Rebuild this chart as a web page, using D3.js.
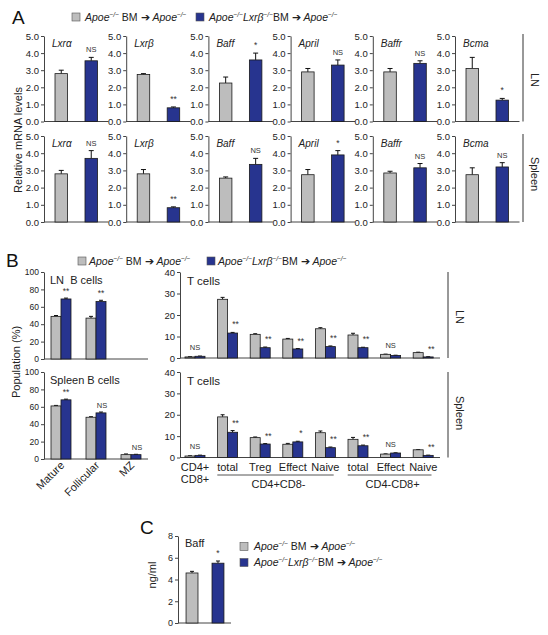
<!DOCTYPE html>
<html><head><meta charset="utf-8">
<script src="https://cdn.jsdelivr.net/npm/d3@7"></script>
<style>
body{margin:0;background:#fff}
svg{font-family:Arial,"Liberation Sans",Helvetica,sans-serif;display:block}
</style>
</head><body>
<svg id="fig" width="548" height="635"></svg>
<script>
// ---------------- DATA ----------------
const series = ["ctrl", "ko"];
const seriesColors = ["#bdbdbd", "#27348f"];

// Panel A: relative mRNA levels
const genes = ["Lxrα", "Lxrβ", "Baff", "April", "Baffr", "Bcma"];
const aTicks = [0, 1, 2, 3, 4, 5];
const lnCtrl    = [2.8, 2.75, 2.25, 2.9, 2.9, 3.1];
const lnCtrlErr = [0.2, 0.05, 0.35, 0.2, 0.2, 0.65];
const lnKo      = [3.55, 0.8, 3.6, 3.3, 3.4, 1.25];
const lnKoErr   = [0.2, 0.05, 0.4, 0.3, 0.15, 0.1];
const lnSig     = ["NS", "**", "*", "NS", "NS", "*"];
const spCtrl    = [2.8, 2.8, 2.55, 2.75, 2.85, 2.75];
const spCtrlErr = [0.2, 0.25, 0.07, 0.3, 0.1, 0.4];
const spKo      = [3.7, 0.83, 3.35, 3.9, 3.15, 3.2];
const spKoErr   = [0.45, 0.05, 0.35, 0.25, 0.25, 0.25];
const spSig     = ["NS", "**", "NS", "*", "NS", "NS"];

// Panel B: B cells population (%)
const bCats = ["Mature", "Follicular", "MZ"];
const bTicks = [0, 20, 40, 60, 80, 100];
const lnBCtrl    = [49, 47, null];
const lnBCtrlErr = [1, 2, null];
const lnBKo      = [69, 66, null];
const lnBKoErr   = [1, 1.5, null];
const lnBSig     = ["**", "**", null];
const spBCtrl    = [61, 48, 5];
const spBCtrlErr = [0.6, 0.6, 0.8];
const spBKo      = [68, 53, 5];
const spBKoErr   = [0.8, 1, 0.4];
const spBSig     = ["**", "NS", "NS"];

// Panel B: T cells population (%)
const tCats = ["CD4+|CD8+", "total", "Treg", "Effect", "Naive", "total ", "Effect ", "Naive "];
const tGroups = [["CD4+CD8-", 1, 4], ["CD4-CD8+", 5, 7]];
const tTicks = [0, 10, 20, 30, 40];
const lnTCtrl    = [0.5, 27.3, 11, 8.8, 13.6, 10.7, 1.7, 2.5];
const lnTCtrlErr = [0.1, 0.9, 0.3, 0.3, 0.5, 0.8, 0.1, 0.2];
const lnTKo      = [0.8, 11.6, 4.8, 4.2, 5.3, 4.8, 1.2, 0.5];
const lnTKoErr   = [0.1, 0.3, 0.3, 0.2, 0.3, 0.2, 0.1, 0.1];
const lnTSig     = ["NS", "**", "**", "**", "**", "**", "NS", "**"];
const spTCtrl    = [0.7, 19, 9.3, 6.2, 11.6, 8.5, 1.6, 3.6];
const spTCtrlErr = [0.1, 1, 0.3, 0.4, 0.8, 0.9, 0.1, 0.1];
const spTKo      = [1.0, 11.8, 6.3, 7.3, 4.6, 5.5, 2.1, 1.0];
const spTKoErr   = [0.1, 0.8, 0.2, 0.3, 0.3, 0.3, 0.1, 0.1];
const spTSig     = ["NS", "**", "**", "*", "**", "**", "NS", "**"];

// Panel C: serum Baff (ng/ml)
const cTicks = [0, 2, 4, 6, 8];
const cVals = [4.6, 5.5];
const cErr  = [0.15, 0.2];
const cSig  = "*";

// ---------------- DRAWING ----------------
const svg = d3.select("#fig");
const AX = "#444";

function styleAxis(g, fs) {
  g.select(".domain").attr("stroke", AX).attr("stroke-width", 1);
  g.selectAll(".tick line").attr("stroke", AX);
  g.selectAll(".tick text").attr("fill", "#222").attr("font-size", fs).attr("font-family", "Arial, Liberation Sans, sans-serif");
}

function yAxis(x, y, ticks, fs) {
  const g = svg.append("g").attr("transform", `translate(${x},0)`)
    .call(d3.axisLeft(y).tickValues(ticks).tickSize(3).tickSizeOuter(0).tickPadding(2));
  styleAxis(g, fs);
  return g;
}

function baseline(x1, x2, yv) {
  svg.append("line").attr("x1", x1).attr("x2", x2).attr("y1", yv).attr("y2", yv)
    .attr("stroke", AX).attr("stroke-width", 1);
}

function bar(x, w, y, v, e, color, capW) {
  const g = svg.append("g");
  const cx = x + w / 2;
  g.append("line").attr("x1", cx).attr("x2", cx).attr("y1", y(v)).attr("y2", y(v + e))
    .attr("stroke", "#111").attr("stroke-width", 1);
  g.append("line").attr("x1", cx - capW / 2).attr("x2", cx + capW / 2).attr("y1", y(v + e)).attr("y2", y(v + e))
    .attr("stroke", "#111").attr("stroke-width", 1);
  g.append("rect").attr("x", x).attr("y", y(v)).attr("width", w).attr("height", y(0) - y(v))
    .attr("fill", color).attr("stroke", "#1a1a1a").attr("stroke-width", 0.8);
}

function sigText(x, yv, t) {
  svg.append("text").attr("x", x).attr("y", yv).attr("text-anchor", "middle")
    .attr("font-size", t === "NS" ? 7.5 : 8.5).attr("fill", "#333").text(t);
}

// Legend with italic/superscript segments
function legendText(x, yv, parts, fs) {
  const t = svg.append("text").attr("x", x).attr("y", yv).attr("font-size", fs).attr("fill", "#222");
  let shifted = false;
  parts.forEach(p => {
    const sp = t.append("tspan").text(p.t);
    if (p.i) sp.attr("font-style", "italic");
    if (p.s) {
      sp.attr("font-size", fs * 0.62);
      if (!shifted) { sp.attr("dy", -fs * 0.38); shifted = true; }
    } else if (shifted) {
      sp.attr("dy", fs * 0.38); shifted = false;
    }
  });
  return t;
}
const leg1 = [{t:"Apoe", i:1}, {t:"−/−", i:1, s:1}, {t:" BM ➔ "}, {t:"Apoe", i:1}, {t:"−/−", i:1, s:1}];
const leg2 = [{t:"Apoe", i:1}, {t:"−/−", i:1, s:1}, {t:"Lxrβ", i:1}, {t:"−/−", i:1, s:1}, {t:"BM ➔ "}, {t:"Apoe", i:1}, {t:"−/−", i:1, s:1}];

function legendRow(items) {
  items.forEach(([sx, sy, color, lx, parts]) => {
    svg.append("rect").attr("x", sx).attr("y", sy - 4).attr("width", 8).attr("height", 8)
      .attr("fill", color).attr("stroke", "#555").attr("stroke-width", 0.6);
    legendText(lx, sy + 3.5, parts, 10.5);
  });
}

function rotLabel(x, yv, t, fs, angle) {
  svg.append("text").attr("transform", `translate(${x},${yv}) rotate(${angle})`)
    .attr("text-anchor", "middle").attr("dominant-baseline", "central")
    .attr("font-size", fs).attr("fill", "#222").text(t);
}

function panelLetter(x, yv, t) {
  svg.append("text").attr("x", x).attr("y", yv).attr("font-size", 19).attr("fill", "#111").text(t);
}

// ===== Panel A =====
panelLetter(12, 24, "A");
legendRow([[72, 17, seriesColors[0], 85, leg1], [196, 17, seriesColors[1], 209, leg2]]);
rotLabel(18, 140, "Relative mRNA levels", 11, -90);

const aPanelX = d3.scaleBand().domain(genes).range([44, 44 + 6 * 82.2]);
const aRows = [
  {name: "LN", c: lnCtrl, ce: lnCtrlErr, k: lnKo, ke: lnKoErr, s: lnSig, y: d3.scaleLinear().domain([0, 5]).range([121.5, 36])},
  {name: "Spleen", c: spCtrl, ce: spCtrlErr, k: spKo, ke: spKoErr, s: spSig, y: d3.scaleLinear().domain([0, 5]).range([222, 136])}
];
aRows.forEach(row => {
  genes.forEach((gene, i) => {
    const ax = aPanelX(gene);
    const x = d3.scaleBand().domain(series).range([ax, ax + 64.5]).paddingInner(0.583).paddingOuter(0.367);
    baseline(ax, ax + 64.5, row.y(0));
    yAxis(ax, row.y, aTicks, 9.5);
    bar(x("ctrl"), x.bandwidth(), row.y, row.c[i], row.ce[i], seriesColors[0], 5);
    bar(x("ko"), x.bandwidth(), row.y, row.k[i], row.ke[i], seriesColors[1], 5);
    sigText(x("ko") + x.bandwidth() / 2, row.y(row.k[i] + row.ke[i]) - 5, row.s[i]);
    svg.append("text").attr("x", ax + 8).attr("y", row.y(5) + 11).attr("font-size", 10)
      .attr("font-style", "italic").attr("fill", "#222").text(gene);
  });
  svg.append("line").attr("x1", 523).attr("x2", 523).attr("y1", row.y(5) - 2).attr("y2", row.y(0))
    .attr("stroke", "#333").attr("stroke-width", 1);
  rotLabel(535, row.name === "LN" ? 80 : 174, row.name, 11, 90);
});

// ===== Panel B =====
panelLetter(6, 267, "B");
legendRow([[78, 261, seriesColors[0], 89, leg1], [207, 261, seriesColors[1], 218, leg2]]);
rotLabel(16, 362, "Population (%)", 11, -90);

// B cells
const bx0 = d3.scaleBand().domain(bCats).range([43.5, 148.5]);
const bx1 = d3.scaleBand().domain(series).range([bx0.bandwidth() / 2 - 10, bx0.bandwidth() / 2 + 10]);
const bRows = [
  {name: "LN  B cells", c: lnBCtrl, ce: lnBCtrlErr, k: lnBKo, ke: lnBKoErr, s: lnBSig, y: d3.scaleLinear().domain([0, 100]).range([359, 272])},
  {name: "Spleen B cells", c: spBCtrl, ce: spBCtrlErr, k: spBKo, ke: spBKoErr, s: spBSig, y: d3.scaleLinear().domain([0, 100]).range([459, 372])}
];
bRows.forEach(row => {
  baseline(44, 148, row.y(0));
  yAxis(44, row.y, bTicks, 8.5);
  bCats.forEach((cat, i) => {
    if (row.c[i] == null) return;
    const gx = bx0(cat);
    bar(gx + bx1("ctrl"), bx1.bandwidth(), row.y, row.c[i], row.ce[i], seriesColors[0], 4);
    bar(gx + bx1("ko"), bx1.bandwidth(), row.y, row.k[i], row.ke[i], seriesColors[1], 4);
    const sx = row.s[i] === "NS" ? gx + bx1("ko") + bx1.bandwidth() / 2 + 1 : gx + bx1("ko") + bx1.bandwidth() / 2;
    sigText(sx, row.y(Math.max(row.k[i] + row.ke[i], row.c[i] + row.ce[i])) - 4, row.s[i]);
  });
  svg.append("text").attr("x", 50).attr("y", row.y(100) + 12).attr("font-size", 11).attr("fill", "#222")
    .attr("xml:space", "preserve").style("white-space", "pre").text(row.name);
});
bCats.forEach(cat => {
  const cx = bx0(cat) + bx0.bandwidth() / 2 + 4;
  svg.append("text").attr("transform", `translate(${cx},${466}) rotate(-45)`)
    .attr("text-anchor", "end").attr("font-size", 11).attr("fill", "#222").text(cat);
});

// T cells
const tx0 = d3.scaleBand().domain(tCats).range([178.7, 178.7 + 8 * 32.6]);
const tx1 = d3.scaleBand().domain(series).range([tx0.bandwidth() / 2 - 10, tx0.bandwidth() / 2 + 10]);
const tRows = [
  {name: "LN", c: lnTCtrl, ce: lnTCtrlErr, k: lnTKo, ke: lnTKoErr, s: lnTSig, y: d3.scaleLinear().domain([0, 40]).range([358, 272])},
  {name: "Spleen", c: spTCtrl, ce: spTCtrlErr, k: spTKo, ke: spTKoErr, s: spTSig, y: d3.scaleLinear().domain([0, 40]).range([457.5, 372])}
];
tRows.forEach(row => {
  baseline(180, 440, row.y(0));
  yAxis(180, row.y, tTicks, 9.5);
  tCats.forEach((cat, i) => {
    const gx = tx0(cat);
    bar(gx + tx1("ctrl"), tx1.bandwidth(), row.y, row.c[i], row.ce[i], seriesColors[0], 4);
    bar(gx + tx1("ko"), tx1.bandwidth(), row.y, row.k[i], row.ke[i], seriesColors[1], 4);
    if (row.s[i] === "NS") {
      sigText(gx + tx0.bandwidth() / 2, row.y(Math.max(row.k[i] + row.ke[i], row.c[i] + row.ce[i])) - 6, "NS");
    } else {
      sigText(gx + tx1("ko") + tx1.bandwidth() / 2 + 3, row.y(row.k[i] + row.ke[i]) - 5, row.s[i]);
    }
  });
  svg.append("text").attr("x", 187).attr("y", row.y(40) + 13).attr("font-size", 11.5).attr("fill", "#222").text("T cells");
  svg.append("line").attr("x1", 448).attr("x2", 448).attr("y1", row.y(40)).attr("y2", row.y(0))
    .attr("stroke", "#333").attr("stroke-width", 1);
  rotLabel(460, row.name === "LN" ? 317 : 413, row.name, 11, 90);
});
tCats.forEach(cat => {
  const cx = tx0(cat) + tx0.bandwidth() / 2;
  const lines = cat.trim().split("|");
  lines.forEach((ln, j) => {
    svg.append("text").attr("x", cx).attr("y", 471 + j * 12).attr("text-anchor", "middle")
      .attr("font-size", 11).attr("fill", "#222").text(ln);
  });
});
tGroups.forEach(([name, a, b]) => {
  const x1 = tx0(tCats[a]) + 6, x2 = tx0(tCats[b]) + tx0.bandwidth() - 8;
  svg.append("line").attr("x1", x1).attr("x2", x2).attr("y1", 475).attr("y2", 475).attr("stroke", "#555");
  svg.append("text").attr("x", (x1 + x2) / 2 + 3).attr("y", 488).attr("text-anchor", "middle")
    .attr("font-size", 11).attr("fill", "#222").text(name);
});

// ===== Panel C =====
panelLetter(140, 534, "C");
const cy = d3.scaleLinear().domain([0, 8]).range([623, 536]);
const cx = d3.scaleBand().domain(series).range([178, 232]).paddingInner(0.54).paddingOuter(0.31);
baseline(178, 231, cy(0));
yAxis(178, cy, cTicks, 9);
series.forEach((s, i) => bar(cx(s), cx.bandwidth(), cy, cVals[i], cErr[i], seriesColors[i], 4));
sigText(cx("ko") + cx.bandwidth() / 2, cy(cVals[1] + cErr[1]) - 5, cSig);
svg.append("text").attr("x", 185).attr("y", 547).attr("font-size", 11).attr("fill", "#222").text("Baff");
rotLabel(152, 575, "ng/ml", 11, -90);
legendRow([[240, 546.5, seriesColors[0], 254, leg1], [240, 562.5, seriesColors[1], 254, leg2]]);
</script>
</body></html>
